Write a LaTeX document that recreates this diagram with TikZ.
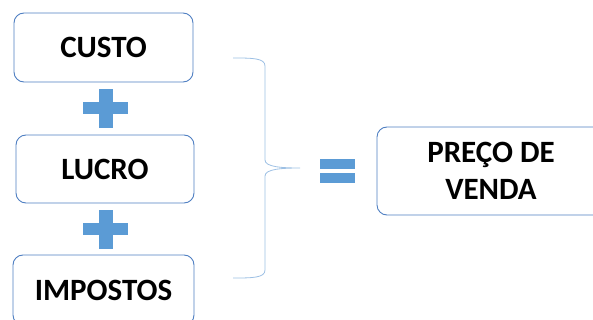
\documentclass[tikz,border=0pt]{standalone}
\usepackage{fontspec}
\setmainfont{Carlito}
\definecolor{boxblue}{HTML}{4F7FC2}
\definecolor{signblue}{HTML}{5B9BD5}
\definecolor{braceblue}{HTML}{9DC0E4}
\tikzset{
% rounded boxes for the terms, blue blocks for the signs
term box/.style={draw=boxblue,line width=0.9pt,rounded corners=10,fill=white,
  font=\bfseries\fontsize{31}{37}\selectfont,align=center},
sign/.style={fill=signblue},
brace line/.style={draw=braceblue,line width=0.8pt}
}

\begin{document}
\begin{tikzpicture}[x=1pt,y=-1pt]
        \useasboundingbox (0,0) rectangle (593,320);
        % The terms of the sum
        \node(custo)[term box,minimum width=179pt,minimum height=69pt] at (103.5,47.5){CUSTO};
        \node(lucro)[term box,minimum width=178pt,minimum height=68pt] at (105,169){LUCRO};
        \node(impostos)[term box,minimum width=181pt,minimum height=70pt] at (103.5,290){IMPOSTOS};
        % The result
        \node(preco)[term box,minimum width=228pt,minimum height=88pt] at (491,171){PREÇO DE\\VENDA};
        % plus signs between the terms
        \foreach \y in {108.5,229}{
          \fill[sign] (99,\y-19.5) rectangle (113,\y+19.5);
          \fill[sign] (83,\y-6) rectangle (128,\y+6);
        }
        % equals sign
        \fill[sign] (320,159) rectangle (355,169);
        \fill[sign] (320,173) rectangle (355,183);
        % brace grouping the terms
        \draw[brace line] (233,58) .. controls (252,58) and (265,58) .. (265,66)
          -- (265,160) .. controls (265,167) and (282,168) .. (300,168)
          .. controls (282,168) and (265,169) .. (265,176)
          -- (265,270) .. controls (265,278) and (252,278) .. (233,278);
      \end{tikzpicture}
\end{document}
